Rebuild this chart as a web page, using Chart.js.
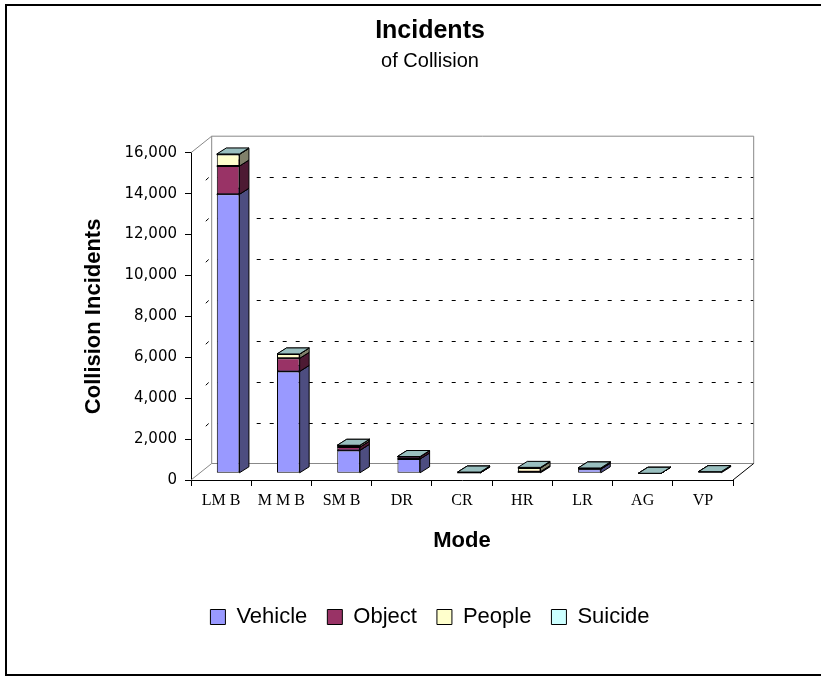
<!DOCTYPE html>
<html>
<head>
<meta charset="utf-8">
<script src="https://cdn.jsdelivr.net/npm/chart.js@4.4.1/dist/chart.umd.min.js"></script>
<style>
  html, body { margin: 0; padding: 0; background: #fff; overflow: hidden; }
  #wrap { width: 821px; height: 677px; position: relative; }
</style>
</head>
<body>
<div id="wrap"><canvas id="grafica"></canvas></div>
<script>
// --- DATOS ---
const modos = ['LM B', 'M M B', 'SM B', 'DR', 'CR', 'HR', 'LR', 'AG', 'VP'];
const vehiculo = [13640, 4980, 1120, 700, 20, 60, 200, 0, 80];
const objeto   = [1380, 640, 160, 110, 40, 20, 50, 0, 0];
const personas = [570, 210, 90, 10, 0, 180, 10, 0, 0];
const suicidio = [20, 5, 0, 0, 0, 30, 0, 0, 0];
const yMax = 16000;
const yPaso = 2000;

const SANS = "'Liberation Sans', Arial, sans-serif";

// profundidad del efecto 3D
const BAR_DX = 7, BAR_DY = -6.7;    // desplazamiento de las barras hacia el fondo
const PROF_X = 9.5, PROF_Y = -6;    // grosor de cada barra
const PARED_X = 20.7, PARED_Y = -16.5; // pared del fondo

const lados  = ['#4D4D80', '#4D1A33', '#80806A', '#668080'];
const techos = ['#7373BF', '#73264D', '#BFBF99', '#99BFBF'];

const caras3d = {
    id: 'caras3d',
    beforeDraw(chart) {
        const ctx = chart.ctx;
        ctx.save();
        ctx.fillStyle = '#fff';
        ctx.fillRect(0, 0, chart.width, chart.height);
        // marco: solo izquierda, arriba y abajo quedan dentro del lienzo
        ctx.strokeStyle = '#000';
        ctx.lineWidth = 2;
        ctx.beginPath();
        ctx.moveTo(chart.width + 5, 5);
        ctx.lineTo(6, 5);
        ctx.lineTo(6, 675);
        ctx.lineTo(chart.width + 5, 675);
        ctx.stroke();
        ctx.restore();
    },
    beforeDatasetsDraw(chart) {
        const { ctx, chartArea: a, scales: { y } } = chart;
        const bx0 = a.left + PARED_X, bx1 = a.right + PARED_X;
        ctx.save();
        ctx.lineWidth = 1;

        // lineas de division (pared del fondo y lateral)
        ctx.strokeStyle = '#000';
        for (let v = yPaso; v < yMax; v += yPaso) {
            const yy = Math.round(y.getPixelForValue(v) + PARED_Y) + 0.5;
            ctx.setLineDash([4, 9]);
            ctx.beginPath();
            ctx.moveTo(bx0 + 6, yy);
            ctx.lineTo(bx1, yy);
            ctx.stroke();
            ctx.setLineDash([4, 40]);
            ctx.beginPath();
            ctx.moveTo(bx0 - 3, yy);
            ctx.lineTo(a.left, yy - PARED_Y);
            ctx.stroke();
        }
        ctx.setLineDash([]);

        // bordes de la pared
        const yTop = y.getPixelForValue(yMax), yBot = y.getPixelForValue(0);
        ctx.strokeStyle = '#888';
        ctx.beginPath();
        ctx.moveTo(a.left, yTop);
        ctx.lineTo(bx0, yTop + PARED_Y);
        ctx.lineTo(bx1, yTop + PARED_Y);
        ctx.lineTo(bx1, yBot + PARED_Y);
        ctx.lineTo(bx0, yBot + PARED_Y);
        ctx.lineTo(bx0, yTop + PARED_Y);
        ctx.moveTo(bx0, yBot + PARED_Y);
        ctx.lineTo(a.left, yBot);
        ctx.stroke();
        ctx.strokeStyle = '#000';
        ctx.beginPath();
        ctx.moveTo(a.right, yBot);
        ctx.lineTo(bx1, yBot + PARED_Y);
        ctx.stroke();

        // caras laterales y superiores de cada barra
        ctx.translate(BAR_DX, BAR_DY);
        ctx.strokeStyle = '#000';
        chart.data.datasets.forEach((ds, i) => {
            const meta = chart.getDatasetMeta(i);
            meta.data.forEach(el => {
                const p = el.getProps(['x', 'y', 'base', 'width'], true);
                const izq = p.x - p.width / 2, der = p.x + p.width / 2;
                const arriba = Math.min(p.y, p.base), abajo = Math.max(p.y, p.base);
                ctx.fillStyle = lados[i];
                ctx.beginPath();
                ctx.moveTo(der, arriba);
                ctx.lineTo(der + PROF_X, arriba + PROF_Y);
                ctx.lineTo(der + PROF_X, abajo + PROF_Y);
                ctx.lineTo(der, abajo);
                ctx.closePath();
                ctx.fill();
                ctx.stroke();
                ctx.fillStyle = techos[i];
                ctx.beginPath();
                ctx.moveTo(izq, arriba);
                ctx.lineTo(der, arriba);
                ctx.lineTo(der + PROF_X, arriba + PROF_Y);
                ctx.lineTo(izq + PROF_X, arriba + PROF_Y);
                ctx.closePath();
                ctx.fill();
                ctx.stroke();
            });
        });
        ctx.restore();

        // las caras frontales las dibuja Chart.js, desplazadas
        ctx.save();
        ctx.translate(BAR_DX, BAR_DY);
    },
    afterDatasetsDraw(chart) {
        chart.ctx.restore();
    }
};

function serie(label, data, color) {
    return {
        label, data,
        backgroundColor: color,
        borderColor: '#000',
        borderWidth: 1,
        borderSkipped: false,
        barPercentage: 0.376,
        categoryPercentage: 1
    };
}

Chart.defaults.color = '#000';

new Chart(document.getElementById('grafica').getContext('2d'), {
    type: 'bar',
    data: {
        labels: modos,
        datasets: [
            serie('Vehicle', vehiculo, '#9999FF'),
            serie('Object', objeto, '#993366'),
            serie('People', personas, '#FFFFCC'),
            serie('Suicide', suicidio, '#CCFFFF')
        ]
    },
    options: {
        responsive: true,
        maintainAspectRatio: false,
        animation: false,
        layout: { padding: { left: 39, right: 0, top: 5, bottom: 39 } },
        plugins: {
            title: {
                display: true, text: 'Incidents',
                font: { family: SANS, size: 25, weight: 'bold' },
                padding: { top: 11, bottom: 2 }
            },
            subtitle: {
                display: true, text: 'of Collision',
                font: { family: SANS, size: 20 },
                padding: { top: 1, bottom: 79.7 }
            },
            legend: {
                position: 'bottom',
                labels: {
                    font: { family: SANS, size: 22 },
                    boxWidth: 15, boxHeight: 15, padding: 20
                }
            },
            tooltip: { enabled: false }
        },
        scales: {
            x: {
                stacked: true,
                grid: { drawOnChartArea: false, tickLength: 6, color: '#000' },
                border: { color: '#000' },
                ticks: { font: { family: "'Liberation Serif', serif", size: 16 }, padding: 5, maxRotation: 0, autoSkip: false },
                title: {
                    display: true, text: 'Mode',
                    font: { family: SANS, size: 22, weight: 'bold' },
                    padding: { top: 0, bottom: 32 }
                },
                afterFit: s => { s.height = 106; }
            },
            y: {
                stacked: true,
                min: 0, max: yMax,
                ticks: { stepSize: yPaso, font: { family: "'DejaVu Sans', sans-serif", size: 15 }, padding: 8 },
                grid: { drawOnChartArea: false, tickLength: 6, color: '#000' },
                border: { color: '#000' },
                title: {
                    display: true, text: 'Collision Incidents',
                    font: { family: SANS, size: 22, weight: 'bold' },
                    padding: { top: 42, bottom: 0 }
                },
                afterFit: s => { s.width = 152; }
            },
            relleno: {
                position: 'right',
                grid: { display: false },
                border: { display: false },
                ticks: { display: false },
                afterFit: s => { s.width = 88; }
            }
        }
    },
    plugins: [caras3d]
});
</script>
</body>
</html>
